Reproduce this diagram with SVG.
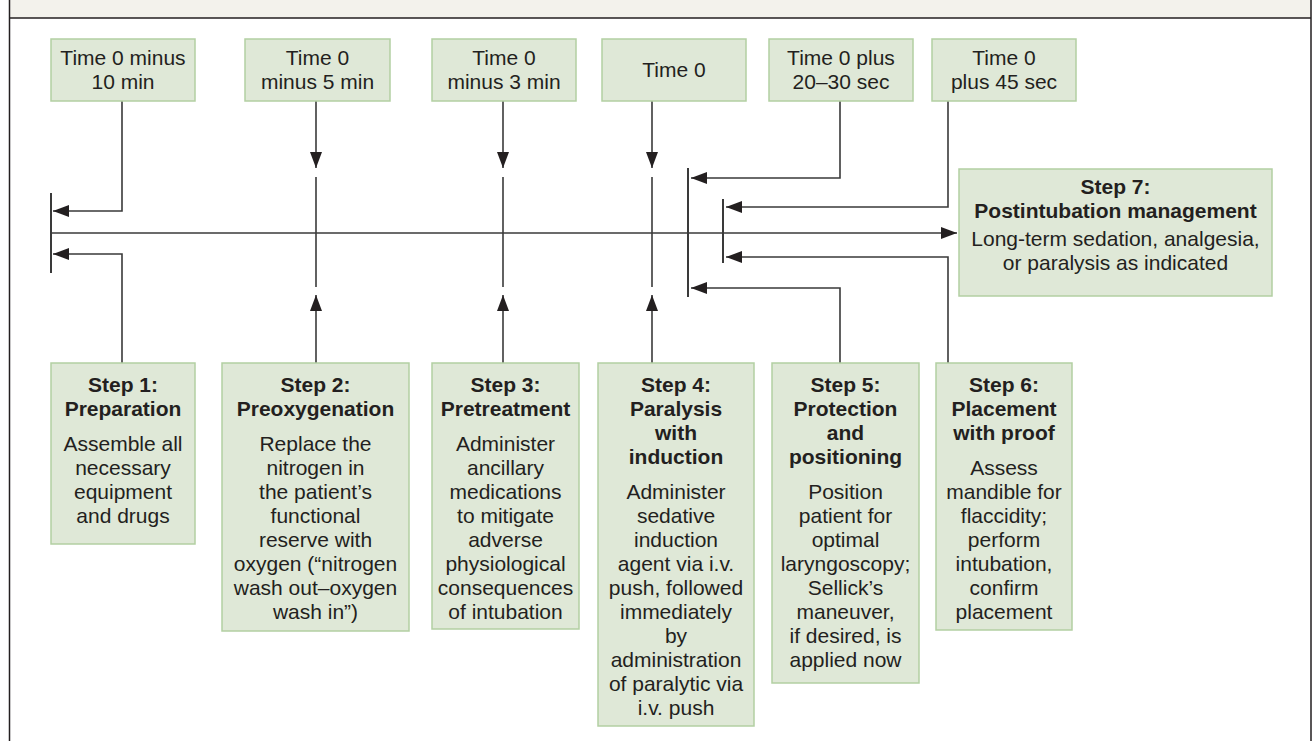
<svg xmlns="http://www.w3.org/2000/svg" width="1313" height="741" viewBox="0 0 1313 741">
<style>
.box{fill:#dfe8d7;stroke:#b3cfa2;stroke-width:1.5}
.t{font-family:"Liberation Sans",Arial,sans-serif;font-size:21px;fill:#231f20;text-anchor:middle}
.b{font-weight:bold}
.ln{fill:none;stroke:#3a3a3a;stroke-width:1.6}
.bar{fill:none;stroke:#3a3a3a;stroke-width:2}
</style>
<defs>
<marker id="ah" markerUnits="userSpaceOnUse" markerWidth="16" markerHeight="12" refX="16" refY="6" orient="auto">
<path d="M0,0 L16,6 L0,12 z" fill="#231f20"/>
</marker>
</defs>
<rect x="0" y="0" width="1313" height="741" fill="#ffffff"/>
<g id="frame">
<rect x="9.5" y="-2" width="1301.5" height="20" fill="#f3f2ec"/>
<path d="M9.5,-2 V745 M1311,-2 V745" stroke="#231f20" stroke-width="1.5" fill="none"/>
<path d="M9.5,18 H1311" stroke="#231f20" stroke-width="1.5" fill="none"/>
</g>
<g id="connectors">
<path class="ln" d="M51,233 H957" marker-end="url(#ah)"/>
<path class="bar" d="M51,193 V273 M688,168 V297 M723,199 V263"/>
<path class="ln" d="M122,101 V211 H53" marker-end="url(#ah)"/>
<path class="ln" d="M122,363 V254 H53" marker-end="url(#ah)"/>
<path class="ln" d="M316,101 V168" marker-end="url(#ah)"/>
<path class="ln" d="M316,177 V287"/>
<path class="ln" d="M316,363 V295" marker-end="url(#ah)"/>
<path class="ln" d="M503,101 V168" marker-end="url(#ah)"/>
<path class="ln" d="M503,177 V287"/>
<path class="ln" d="M503,363 V295" marker-end="url(#ah)"/>
<path class="ln" d="M652,101 V168" marker-end="url(#ah)"/>
<path class="ln" d="M652,177 V287"/>
<path class="ln" d="M652,363 V295" marker-end="url(#ah)"/>
<path class="ln" d="M840,101 V178 H691" marker-end="url(#ah)"/>
<path class="ln" d="M840,363 V288 H691" marker-end="url(#ah)"/>
<path class="ln" d="M948,101 V207 H726" marker-end="url(#ah)"/>
<path class="ln" d="M948,363 V257 H726" marker-end="url(#ah)"/>
</g>
<g id="time1"><rect class="box" x="51" y="39" width="144" height="62"/>
<text class="t" x="123" y="65">Time 0 minus</text><text class="t" x="123" y="89">10 min</text></g>
<g id="time2"><rect class="box" x="245" y="39" width="145" height="62"/>
<text class="t" x="317.5" y="65">Time 0</text><text class="t" x="317.5" y="89">minus 5 min</text></g>
<g id="time3"><rect class="box" x="432" y="39" width="144" height="62"/>
<text class="t" x="504" y="65">Time 0</text><text class="t" x="504" y="89">minus 3 min</text></g>
<g id="time4"><rect class="box" x="602" y="39" width="144" height="62"/>
<text class="t" x="674" y="77">Time 0</text></g>
<g id="time5"><rect class="box" x="769" y="39" width="144" height="62"/>
<text class="t" x="841" y="65">Time 0 plus</text><text class="t" x="841" y="89">20–30 sec</text></g>
<g id="time6"><rect class="box" x="932" y="39" width="144" height="62"/>
<text class="t" x="1004" y="65">Time 0</text><text class="t" x="1004" y="89">plus 45 sec</text></g>
<g id="step7"><rect class="box" x="959" y="169" width="313" height="127"/>
<text class="t b" x="1115.5" y="194">Step 7:</text>
<text class="t b" x="1115.5" y="218">Postintubation management</text>
<text class="t" x="1115.5" y="246">Long-term sedation, analgesia,</text>
<text class="t" x="1115.5" y="270">or paralysis as indicated</text></g>
<g id="step1"><rect class="box" x="51" y="363" width="144" height="181"/>
<text class="t b" x="123" y="392">Step 1:</text>
<text class="t b" x="123" y="416">Preparation</text>
<text class="t" x="123" y="451">Assemble all</text>
<text class="t" x="123" y="475">necessary</text>
<text class="t" x="123" y="499">equipment</text>
<text class="t" x="123" y="523">and drugs</text></g>
<g id="step2"><rect class="box" x="222" y="363" width="187" height="268"/>
<text class="t b" x="315.5" y="392">Step 2:</text>
<text class="t b" x="315.5" y="416">Preoxygenation</text>
<text class="t" x="315.5" y="451">Replace the</text>
<text class="t" x="315.5" y="475">nitrogen in</text>
<text class="t" x="315.5" y="499">the patient’s</text>
<text class="t" x="315.5" y="523">functional</text>
<text class="t" x="315.5" y="547">reserve with</text>
<text class="t" x="315.5" y="571">oxygen (“nitrogen</text>
<text class="t" x="315.5" y="595">wash out–oxygen</text>
<text class="t" x="315.5" y="619">wash in”)</text></g>
<g id="step3"><rect class="box" x="432" y="363" width="147" height="266"/>
<text class="t b" x="505.5" y="392">Step 3:</text>
<text class="t b" x="505.5" y="416">Pretreatment</text>
<text class="t" x="505.5" y="451">Administer</text>
<text class="t" x="505.5" y="475">ancillary</text>
<text class="t" x="505.5" y="499">medications</text>
<text class="t" x="505.5" y="523">to mitigate</text>
<text class="t" x="505.5" y="547">adverse</text>
<text class="t" x="505.5" y="571">physiological</text>
<text class="t" x="505.5" y="595">consequences</text>
<text class="t" x="505.5" y="619">of intubation</text></g>
<g id="step4"><rect class="box" x="598" y="363" width="156" height="363"/>
<text class="t b" x="676" y="392">Step 4:</text>
<text class="t b" x="676" y="416">Paralysis</text>
<text class="t b" x="676" y="440">with</text>
<text class="t b" x="676" y="464">induction</text>
<text class="t" x="676" y="499">Administer</text>
<text class="t" x="676" y="523">sedative</text>
<text class="t" x="676" y="547">induction</text>
<text class="t" x="676" y="571">agent via i.v.</text>
<text class="t" x="676" y="595">push, followed</text>
<text class="t" x="676" y="619">immediately</text>
<text class="t" x="676" y="643">by</text>
<text class="t" x="676" y="667">administration</text>
<text class="t" x="676" y="691">of paralytic via</text>
<text class="t" x="676" y="715">i.v. push</text></g>
<g id="step5"><rect class="box" x="772" y="363" width="147" height="320"/>
<text class="t b" x="845.5" y="392">Step 5:</text>
<text class="t b" x="845.5" y="416">Protection</text>
<text class="t b" x="845.5" y="440">and</text>
<text class="t b" x="845.5" y="464">positioning</text>
<text class="t" x="845.5" y="499">Position</text>
<text class="t" x="845.5" y="523">patient for</text>
<text class="t" x="845.5" y="547">optimal</text>
<text class="t" x="845.5" y="571">laryngoscopy;</text>
<text class="t" x="845.5" y="595">Sellick’s</text>
<text class="t" x="845.5" y="619">maneuver,</text>
<text class="t" x="845.5" y="643">if desired, is</text>
<text class="t" x="845.5" y="667">applied now</text></g>
<g id="step6"><rect class="box" x="936" y="363" width="136" height="267"/>
<text class="t b" x="1004" y="392">Step 6:</text>
<text class="t b" x="1004" y="416">Placement</text>
<text class="t b" x="1004" y="440">with proof</text>
<text class="t" x="1004" y="475">Assess</text>
<text class="t" x="1004" y="499">mandible for</text>
<text class="t" x="1004" y="523">flaccidity;</text>
<text class="t" x="1004" y="547">perform</text>
<text class="t" x="1004" y="571">intubation,</text>
<text class="t" x="1004" y="595">confirm</text>
<text class="t" x="1004" y="619">placement</text></g>
</svg>
